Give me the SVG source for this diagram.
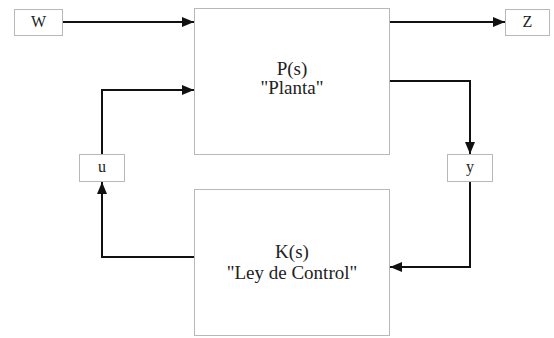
<svg xmlns="http://www.w3.org/2000/svg" width="554" height="338" viewBox="0 0 554 338">
<style>
.box{fill:#fff;stroke:#b8b8b8;stroke-width:1}
.big{font-family:"Liberation Serif","Times New Roman",serif;font-size:19px;fill:#222;text-anchor:middle}
.sm{font-family:"Liberation Serif","Times New Roman",serif;font-size:16px;fill:#222;text-anchor:middle}
.wire{fill:none;stroke:#111;stroke-width:2;marker-end:url(#ah)}
</style>
<defs>
<marker id="ah" markerUnits="userSpaceOnUse" markerWidth="13" markerHeight="11" refX="12" refY="5" orient="auto">
<path d="M0,0 L12,5 L0,10 Z" fill="#111"/>
</marker>
</defs>
<rect width="554" height="338" fill="#fff"/>
<g id="W"><rect class="box" x="14.5" y="9.5" width="48" height="26"/><text class="sm" x="38.5" y="27">W</text></g>
<g id="Z"><rect class="box" x="505.5" y="9.5" width="44" height="26"/><text class="sm" x="527.5" y="27">Z</text></g>
<g id="P"><rect class="box" x="194.5" y="8.5" width="195" height="146"/><text class="big" x="292" y="75">P(s)</text><text class="big" x="292" y="94">"Planta"</text></g>
<g id="K"><rect class="box" x="194.5" y="189.5" width="195" height="146"/><text class="big" x="292" y="258">K(s)</text><text class="big" x="292" y="279">"Ley de Control"</text></g>
<g id="u"><rect class="box" x="79.5" y="154.5" width="45" height="27"/><text class="sm" x="102" y="172">u</text></g>
<g id="y"><rect class="box" x="447.5" y="154.5" width="45" height="27"/><text class="sm" x="470" y="172">y</text></g>
<g id="connectors">
<path class="wire" d="M63,22 H194"/>
<path class="wire" d="M390,22 H505"/>
<path class="wire" d="M390,81 H470 V154"/>
<path class="wire" d="M470,182 V267 H390"/>
<path class="wire" d="M194,257 H102 V182"/>
<path class="wire" d="M102,154 V90 H194"/>
</g>
</svg>
